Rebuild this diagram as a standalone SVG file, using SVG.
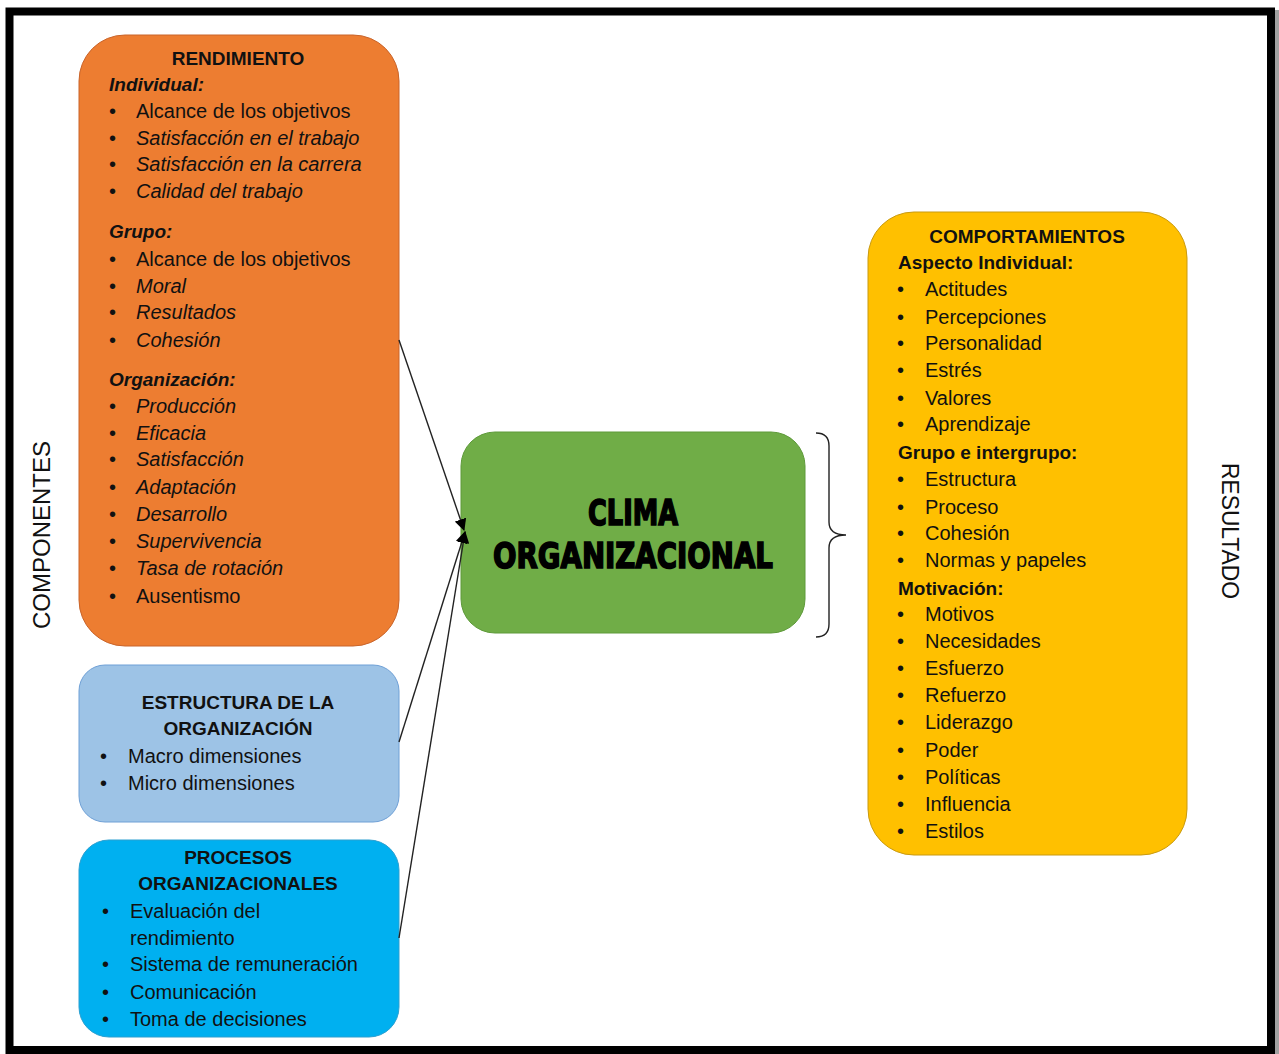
<svg xmlns="http://www.w3.org/2000/svg" width="1279" height="1054" viewBox="0 0 1279 1054">
<defs>
<style>
text{font-family:"Liberation Sans",Arial,sans-serif;fill:#111;}
.t{font-size:20px;}
.h{font-size:19px;font-weight:bold;}
.hi{font-size:19px;font-weight:bold;font-style:italic;}
.i{font-style:italic;}
.c{text-anchor:middle;}
.side{font-size:23px;}
.big{font-family:"Liberation Sans Narrow","DejaVu Sans Condensed","Liberation Sans",sans-serif;font-size:36px;font-weight:bold;text-anchor:middle;stroke:#000;stroke-width:1.6px;fill:#000;}
.conn{stroke:#222;stroke-width:1.4;fill:none;}
</style>
<marker id="ah" markerWidth="12" markerHeight="12" refX="11" refY="6" orient="auto" markerUnits="userSpaceOnUse">
<path d="M0,0 L12,6 L0,12 z" fill="#000"/>
</marker>
</defs>
<rect x="0" y="0" width="1279" height="1054" fill="#fff"/>
<rect x="1275" y="10" width="4" height="1044" fill="#a0a0a0"/>
<rect x="9.5" y="11.5" width="1261.5" height="1038.5" fill="none" stroke="#000" stroke-width="8"/>

<g id="componentes-label"><text class="side" transform="translate(50,535) rotate(-90)" text-anchor="middle" textLength="188" lengthAdjust="spacingAndGlyphs">COMPONENTES</text></g>
<g id="resultado-label"><text class="side" transform="translate(1222,531) rotate(90)" text-anchor="middle" textLength="136" lengthAdjust="spacingAndGlyphs">RESULTADO</text></g>

<g id="rendimiento">
<rect x="79" y="35" width="320" height="611" rx="46" fill="#ED7D31" stroke="#C9642A" stroke-width="1"/>
<text class="h c" x="238" y="65">RENDIMIENTO</text>
<text class="hi" x="109" y="91">Individual:</text>
<g class="t">
<text x="109" y="118">•</text><text x="136" y="118">Alcance de los objetivos</text>
<text x="109" y="145">•</text><text class="i" x="136" y="145">Satisfacción en el trabajo</text>
<text x="109" y="171">•</text><text class="i" x="136" y="171">Satisfacción en la carrera</text>
<text x="109" y="198">•</text><text class="i" x="136" y="198">Calidad del trabajo</text>
</g>
<text class="hi" x="109" y="238">Grupo:</text>
<g class="t">
<text x="109" y="266">•</text><text x="136" y="266">Alcance de los objetivos</text>
<text x="109" y="293">•</text><text class="i" x="136" y="293">Moral</text>
<text x="109" y="319">•</text><text class="i" x="136" y="319">Resultados</text>
<text x="109" y="347">•</text><text class="i" x="136" y="347">Cohesión</text>
</g>
<text class="hi" x="109" y="386">Organización:</text>
<g class="t">
<text x="109" y="413">•</text><text class="i" x="136" y="413">Producción</text>
<text x="109" y="440">•</text><text class="i" x="136" y="440">Eficacia</text>
<text x="109" y="466">•</text><text class="i" x="136" y="466">Satisfacción</text>
<text x="109" y="494">•</text><text class="i" x="136" y="494">Adaptación</text>
<text x="109" y="521">•</text><text class="i" x="136" y="521">Desarrollo</text>
<text x="109" y="548">•</text><text class="i" x="136" y="548">Supervivencia</text>
<text x="109" y="575">•</text><text class="i" x="136" y="575">Tasa de rotación</text>
<text x="109" y="603">•</text><text x="136" y="603">Ausentismo</text>
</g>
</g>

<g id="estructura">
<rect x="79" y="665" width="320" height="157" rx="26" fill="#9DC3E6" stroke="#6FA0D6" stroke-width="1"/>
<text class="h c" x="238" y="709">ESTRUCTURA DE LA</text>
<text class="h c" x="238" y="735">ORGANIZACIÓN</text>
<g class="t">
<text x="100" y="763">•</text><text x="128" y="763">Macro dimensiones</text>
<text x="100" y="790">•</text><text x="128" y="790">Micro dimensiones</text>
</g>
</g>

<g id="procesos">
<rect x="79" y="840" width="320" height="197" rx="30" fill="#00B0F0" stroke="#2a9fd0" stroke-width="1"/>
<text class="h c" x="238" y="864">PROCESOS</text>
<text class="h c" x="238" y="890">ORGANIZACIONALES</text>
<g class="t">
<text x="102" y="918">•</text><text x="130" y="918">Evaluación del</text>
<text x="130" y="945">rendimiento</text>
<text x="102" y="971">•</text><text x="130" y="971">Sistema de remuneración</text>
<text x="102" y="999">•</text><text x="130" y="999">Comunicación</text>
<text x="102" y="1026">•</text><text x="130" y="1026">Toma de decisiones</text>
</g>
</g>

<g id="clima">
<rect x="461" y="432" width="344" height="201" rx="34" fill="#70AD47" stroke="#5E9A3A" stroke-width="1"/>
<text class="big" x="633" y="525" textLength="90" lengthAdjust="spacingAndGlyphs">CLIMA</text>
<text class="big" x="633" y="568" textLength="280" lengthAdjust="spacingAndGlyphs">ORGANIZACIONAL</text>
</g>

<g id="comportamientos">
<rect x="868" y="212" width="319" height="643" rx="46" fill="#FFC000" stroke="#C99A10" stroke-width="1"/>
<text class="h c" x="1027" y="243">COMPORTAMIENTOS</text>
<text class="h" x="898" y="269">Aspecto Individual:</text>
<g class="t">
<text x="897" y="296">•</text><text x="925" y="296">Actitudes</text>
<text x="897" y="324">•</text><text x="925" y="324">Percepciones</text>
<text x="897" y="350">•</text><text x="925" y="350">Personalidad</text>
<text x="897" y="377">•</text><text x="925" y="377">Estrés</text>
<text x="897" y="405">•</text><text x="925" y="405">Valores</text>
<text x="897" y="431">•</text><text x="925" y="431">Aprendizaje</text>
</g>
<text class="h" x="898" y="459">Grupo e intergrupo:</text>
<g class="t">
<text x="897" y="486">•</text><text x="925" y="486">Estructura</text>
<text x="897" y="514">•</text><text x="925" y="514">Proceso</text>
<text x="897" y="540">•</text><text x="925" y="540">Cohesión</text>
<text x="897" y="567">•</text><text x="925" y="567">Normas y papeles</text>
</g>
<text class="h" x="898" y="595">Motivación:</text>
<g class="t">
<text x="897" y="621">•</text><text x="925" y="621">Motivos</text>
<text x="897" y="648">•</text><text x="925" y="648">Necesidades</text>
<text x="897" y="675">•</text><text x="925" y="675">Esfuerzo</text>
<text x="897" y="702">•</text><text x="925" y="702">Refuerzo</text>
<text x="897" y="729">•</text><text x="925" y="729">Liderazgo</text>
<text x="897" y="757">•</text><text x="925" y="757">Poder</text>
<text x="897" y="784">•</text><text x="925" y="784">Políticas</text>
<text x="897" y="811">•</text><text x="925" y="811">Influencia</text>
<text x="897" y="838">•</text><text x="925" y="838">Estilos</text>
</g>
</g>

<g id="connectors">
<line class="conn" x1="399" y1="340" x2="464" y2="530" marker-end="url(#ah)"/>
<line class="conn" x1="399" y1="742" x2="465" y2="532" marker-end="url(#ah)"/>
<line class="conn" x1="399" y1="938" x2="465" y2="532" marker-end="url(#ah)"/>
<path class="conn" d="M816,433 Q829,433 829,446 L829,522 Q829,535 846,535 Q829,535 829,548 L829,624 Q829,637 816,637" stroke-width="1.3"/>
</g>
</svg>
